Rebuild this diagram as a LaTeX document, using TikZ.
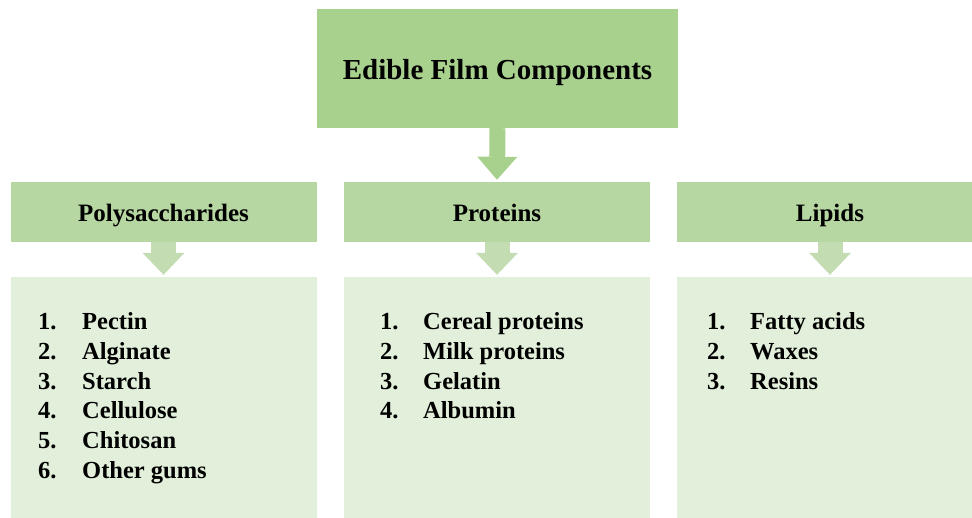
\documentclass[tikz,border=0pt]{standalone}
\usepackage{fontspec}
\setmainfont{Liberation Serif}
\usetikzlibrary{arrows.meta}
\definecolor{titlegreen}{HTML}{A9D18E}
\definecolor{headgreen}{HTML}{B6D7A1}
\definecolor{listgreen}{HTML}{E2EFDA}
\definecolor{arrowgreen}{HTML}{C3DCB2}
\tikzset{
  titlebox/.style={fill=titlegreen,inner sep=0pt,minimum width=361pt,minimum height=119pt,text height=23pt,text depth=0pt,font=\fontsize{29}{34}\selectfont\bfseries},
  headbox/.style={fill=headgreen,inner sep=0pt,minimum width=306pt,minimum height=60pt,text height=20pt,text depth=0pt,font=\fontsize{25}{30}\selectfont\bfseries},
  listbox/.style={fill=listgreen,inner sep=0pt,minimum width=306pt,minimum height=253pt},
  entry/.style={anchor=base west,inner sep=0pt,font=\fontsize{24.5}{30}\selectfont\bfseries},
  bigarrow/.style={draw=titlegreen,line width=16pt,-{Triangle[width=40pt,length=23pt,line width=0pt]}},
  subarrow/.style={draw=arrowgreen,line width=25pt,-{Triangle[width=42pt,length=22pt,line width=0pt]}}
}
\begin{document}
\begin{tikzpicture}[x=1pt,y=-1pt]
\useasboundingbox (0,0) rectangle (972,518);
\clip (0,0) rectangle (972,518);
% Main box
\node[titlebox] (edible) at (497.5,68.5) {Edible Film Components};
% Group headers
\node[headbox] (poly) at (163.5,212) {Polysaccharides};
\node[headbox] (prot) at (497,212) {Proteins};
\node[headbox] (lipid) at (830,212) {Lipids};
% List boxes
\node[listbox] (polylist) at (163.5,403.5) {};
\node[listbox] (protlist) at (497,403.5) {};
\node[listbox] (lipidlist) at (830,403.5) {};
% Arrows
\draw[bigarrow] (edible.south) -- ([yshift=2pt]prot.north);
\draw[subarrow] (poly.south) -- ([yshift=2pt]polylist.north);
\draw[subarrow] (prot.south) -- ([yshift=2pt]protlist.north);
\draw[subarrow] (lipid.south) -- ([yshift=2pt]lipidlist.north);
% Polysaccharide list
\foreach \name [count=\i] in {Pectin,Alginate,Starch,Cellulose,Chitosan,Other gums} {
  \node[entry] (polynum\i) at (38,{330+29.6*(\i-1)}) {\i.};
  \node[entry] (polyitem\i) at (82,{330+29.6*(\i-1)}) {\name};
}
% Protein list
\foreach \name [count=\i] in {Cereal proteins,Milk proteins,Gelatin,Albumin} {
  \node[entry] (protnum\i) at (380,{330+29.6*(\i-1)}) {\i.};
  \node[entry] (protitem\i) at (423,{330+29.6*(\i-1)}) {\name};
}
% Lipid list
\foreach \name [count=\i] in {Fatty acids,Waxes,Resins} {
  \node[entry] (lipidnum\i) at (707,{330+29.6*(\i-1)}) {\i.};
  \node[entry] (lipiditem\i) at (750,{330+29.6*(\i-1)}) {\name};
}
\end{tikzpicture}
\end{document}
